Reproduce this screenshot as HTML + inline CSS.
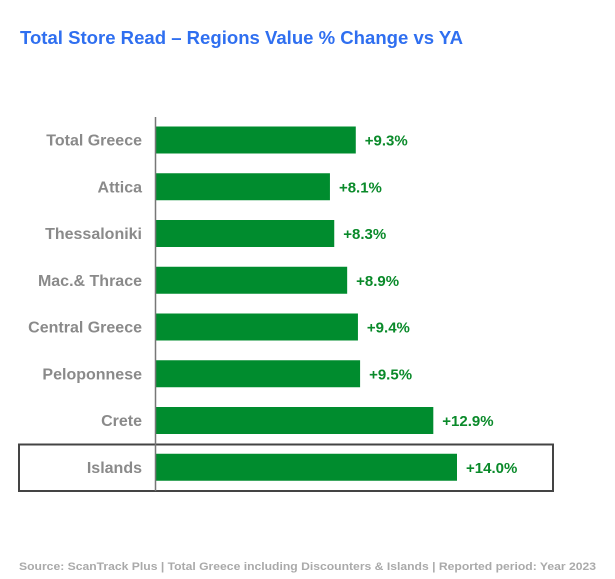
<!DOCTYPE html>
<html><head><meta charset="utf-8"><style>
html,body{margin:0;padding:0;background:#fff;}
svg{display:block;font-family:"Liberation Sans",Arial,sans-serif;}
</style></head><body>
<svg id="chart" width="615" height="579" viewBox="0 0 615 579">
<text x="20" y="44" font-size="18" font-weight="bold" fill="#2f6ff0" textLength="443" lengthAdjust="spacingAndGlyphs">Total Store Read – Regions Value % Change vs YA</text>
<rect x="19" y="444.5" width="534" height="46.5" fill="none" stroke="#444" stroke-width="2"/>
<g id="bars"></g>
<line x1="155.5" y1="117" x2="155.5" y2="491" stroke="#777" stroke-width="1.5"/>
<text x="19" y="570" font-size="11" font-weight="bold" fill="#aaaaaa" textLength="577" lengthAdjust="spacingAndGlyphs">Source: ScanTrack Plus | Total Greece including Discounters &amp; Islands |  Reported period: Year 2023</text>
</svg>
<script>
const categories = ["Total Greece","Attica","Thessaloniki","Mac.& Thrace","Central Greece","Peloponnese","Crete","Islands"];
const values = [9.3,8.1,8.3,8.9,9.4,9.5,12.9,14.0];
const valueLabels = ["+9.3%","+8.1%","+8.3%","+8.9%","+9.4%","+9.5%","+12.9%","+14.0%"];
const NS="http://www.w3.org/2000/svg";
const x0=155.5, pxPer=(457-155.5)/14;
function xScale(v){return x0+v*pxPer;}
function yCenter(i){return 140+i*46.75;}
const g=document.getElementById('bars');
categories.forEach((c,i)=>{
  const yc=yCenter(i);
  const r=document.createElementNS(NS,'rect');
  
  
  r.setAttribute('x',x0);r.setAttribute('y',yc-13.5);
  r.setAttribute('width',xScale(values[i])-x0);r.setAttribute('height',27);
  r.setAttribute('fill','#008c2e');g.appendChild(r);
  const t=document.createElementNS(NS,'text');
  
  
  t.setAttribute('x',142);t.setAttribute('y',yc+5.5);t.setAttribute('text-anchor','end');
  t.setAttribute('font-size','16');t.setAttribute('font-weight','bold');t.setAttribute('fill','#8a8a8a');
  t.textContent=c;g.appendChild(t);
  const v=document.createElementNS(NS,'text');
  
  
  v.setAttribute('x',xScale(values[i])+9);v.setAttribute('y',yc+5.5);
  v.setAttribute('font-size','15');v.setAttribute('font-weight','bold');v.setAttribute('fill','#0a8a2a');
  v.textContent=valueLabels[i];g.appendChild(v);
});
</script>
</body></html>
